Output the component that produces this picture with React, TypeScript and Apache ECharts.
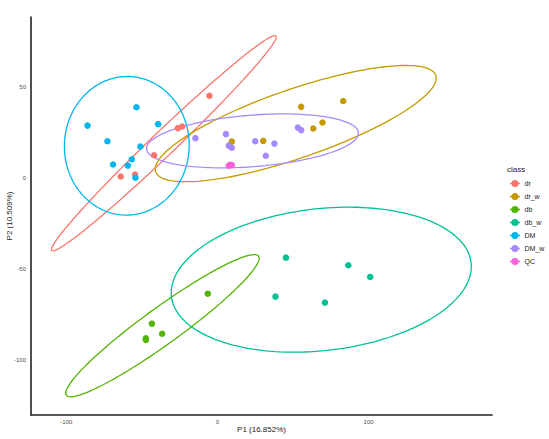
import React, { useEffect, useRef } from "react";
import * as echarts from "echarts";

const classes = ["dr", "dr_w", "db", "db_w", "DM", "DM_w", "QC"];
const colors = ["#F8766D", "#C49A00", "#53B400", "#00C094", "#00B6EB", "#A58AFF", "#FB61D7"];

const drPoints = [[-5.3, 45.3], [-26.2, 27.5], [-23.4, 28.4], [-41.9, 12.6], [-64.0, 0.9], [-54.5, 2.0]];
const drWPoints = [[9.5, 20.1], [30.3, 20.5], [55.4, 39.2], [83.2, 42.4], [69.5, 30.6], [63.4, 27.3]];
const dbPoints = [[-6.4, -63.5], [-43.4, -80.0], [-36.6, -85.5], [-47.4, -88.0], [-47.4, -88.9]];
const dbWPoints = [[45.3, -43.7], [86.6, -47.9], [101.1, -54.3], [38.4, -65.1], [71.1, -68.4]];
const dmPoints = [[-86.0, 28.9], [-53.6, 39.0], [-39.3, 29.7], [-72.8, 20.3], [-51.0, 17.4], [-56.7, 10.4], [-69.1, 7.5], [-59.3, 6.9], [-54.3, 0.2]];
const dmWPoints = [[-14.6, 22.0], [5.6, 24.2], [7.5, 17.9], [9.5, 16.7], [25.0, 20.3], [37.7, 19.0], [32.0, 12.3], [53.2, 27.8], [55.4, 26.4]];
const qcPoints = [[7.5, 6.9], [8.5, 7.3], [9.5, 7.2]];
const pointSets = [drPoints, drWPoints, dbPoints, dbWPoints, dmPoints, dmWPoints, qcPoints];

// ellipse parameters (data units): centre, two conjugate semi-diameters
const ellipseCenters = [[-35.5, 19.2], [51.8, 30.0], [-36.4, -81.1], [68.7, -55.8], [-60.0, 17.8], [23.2, 20.5], null];
const ellipseU = [[74.2, 59.0], [93.0, 25.0], [64.0, 37.1], [99.3, 7.2], [41.3, 0.3], [70.1, 4.24], null];
const ellipseV = [[5.5, -4.77], [0, 19.9], [0, 12.3], [0, 39.2], [0, 38.1], [0, 14.2], null];

const xTicks = [-100, 0, 100];
const yTicks = [-100, -50, 0, 50];

const legendIcon =
  "path://M8.5,5 A3.5,3.5 0 1,1 1.5,5 A3.5,3.5 0 1,1 8.5,5 Z M0,4.3 H10 V5.7 H0 Z";

function ellipsePath(i: number) {
  const c = ellipseCenters[i];
  const u = ellipseU[i];
  const v = ellipseV[i];
  if (!c || !u || !v) return [];
  const pts: number[][] = [];
  const n = 160;
  for (let k = 0; k <= n; k++) {
    const t = (2 * Math.PI * k) / n;
    pts.push([c[0] + u[0] * Math.cos(t) + v[0] * Math.sin(t), c[1] + u[1] * Math.cos(t) + v[1] * Math.sin(t)]);
  }
  return pts;
}

export default function App() {
  const ref = useRef<HTMLDivElement>(null);
  useEffect(() => {
    const chart = echarts.init(ref.current!, null, { renderer: "svg" });
    const series: any[] = [];
    classes.forEach((name, i) => {
      const ep = ellipsePath(i);
      if (ep.length) {
        series.push({
          name,
          type: "line",
          data: ep,
          showSymbol: false,
          symbol: "none",
          smooth: false,
          lineStyle: { color: colors[i], width: 1.3 },
          itemStyle: { color: colors[i] },
          silent: true,
          z: 2,
        });
      }
      series.push({
        name,
        type: "scatter",
        data: pointSets[i],
        symbol: "circle",
        symbolSize: 6.5,
        itemStyle: { color: colors[i], opacity: 1 },
        z: 3,
      });
    });
    chart.setOption({
      animation: false,
      backgroundColor: "#ffffff",
      textStyle: { fontFamily: "Liberation Sans, Arial, sans-serif" },
      title: {
        text: "class",
        left: 502,
        top: 160,
        textStyle: { fontSize: 8, fontWeight: "normal", color: "#1a1a1a", fontFamily: "Liberation Sans, Arial, sans-serif" },
      },
      legend: {
        orient: "vertical",
        left: 505,
        top: 175,
        itemWidth: 11,
        itemHeight: 7,
        itemGap: 6,
        selectedMode: false,
        data: classes.map((name) => ({ name, icon: legendIcon })),
        textStyle: { fontSize: 7, color: "#1a1a1a", padding: [0, 0, 0, -1] },
      },
      grid: { left: 31, right: 57, top: 17, bottom: 24, containLabel: false, outerBoundsMode: "none" },
      xAxis: {
        type: "value",
        min: -123.4,
        max: 181.7,
        name: "P1 (16.852%)",
        nameLocation: "middle",
        nameGap: 10,
        nameMoveOverlap: false,
        nameTextStyle: { fontSize: 8, color: "#1a1a1a" },
        axisLine: { show: true, onZero: false, lineStyle: { color: "#222", width: 1.6 } },
        axisTick: { show: false },
        splitLine: { show: false },
        axisLabel: { customValues: xTicks, fontSize: 6, color: "#4d4d4d", margin: 4 },
      },
      yAxis: {
        type: "value",
        min: -130.2,
        max: 88.6,
        name: "P2 (10.509%)",
        nameLocation: "middle",
        nameGap: 18,
        nameMoveOverlap: false,
        nameTextStyle: { fontSize: 8, color: "#1a1a1a" },
        axisLine: { show: true, onZero: false, lineStyle: { color: "#222", width: 1.6 } },
        axisTick: { show: false },
        splitLine: { show: false },
        axisLabel: { customValues: yTicks, fontSize: 6, color: "#4d4d4d", margin: 5 },
      },
      series,
    });
    return () => chart.dispose();
  }, []);
  return <div ref={ref} style={{ position: "absolute", left: 0, top: 0, width: 549, height: 439 }} />;
}
